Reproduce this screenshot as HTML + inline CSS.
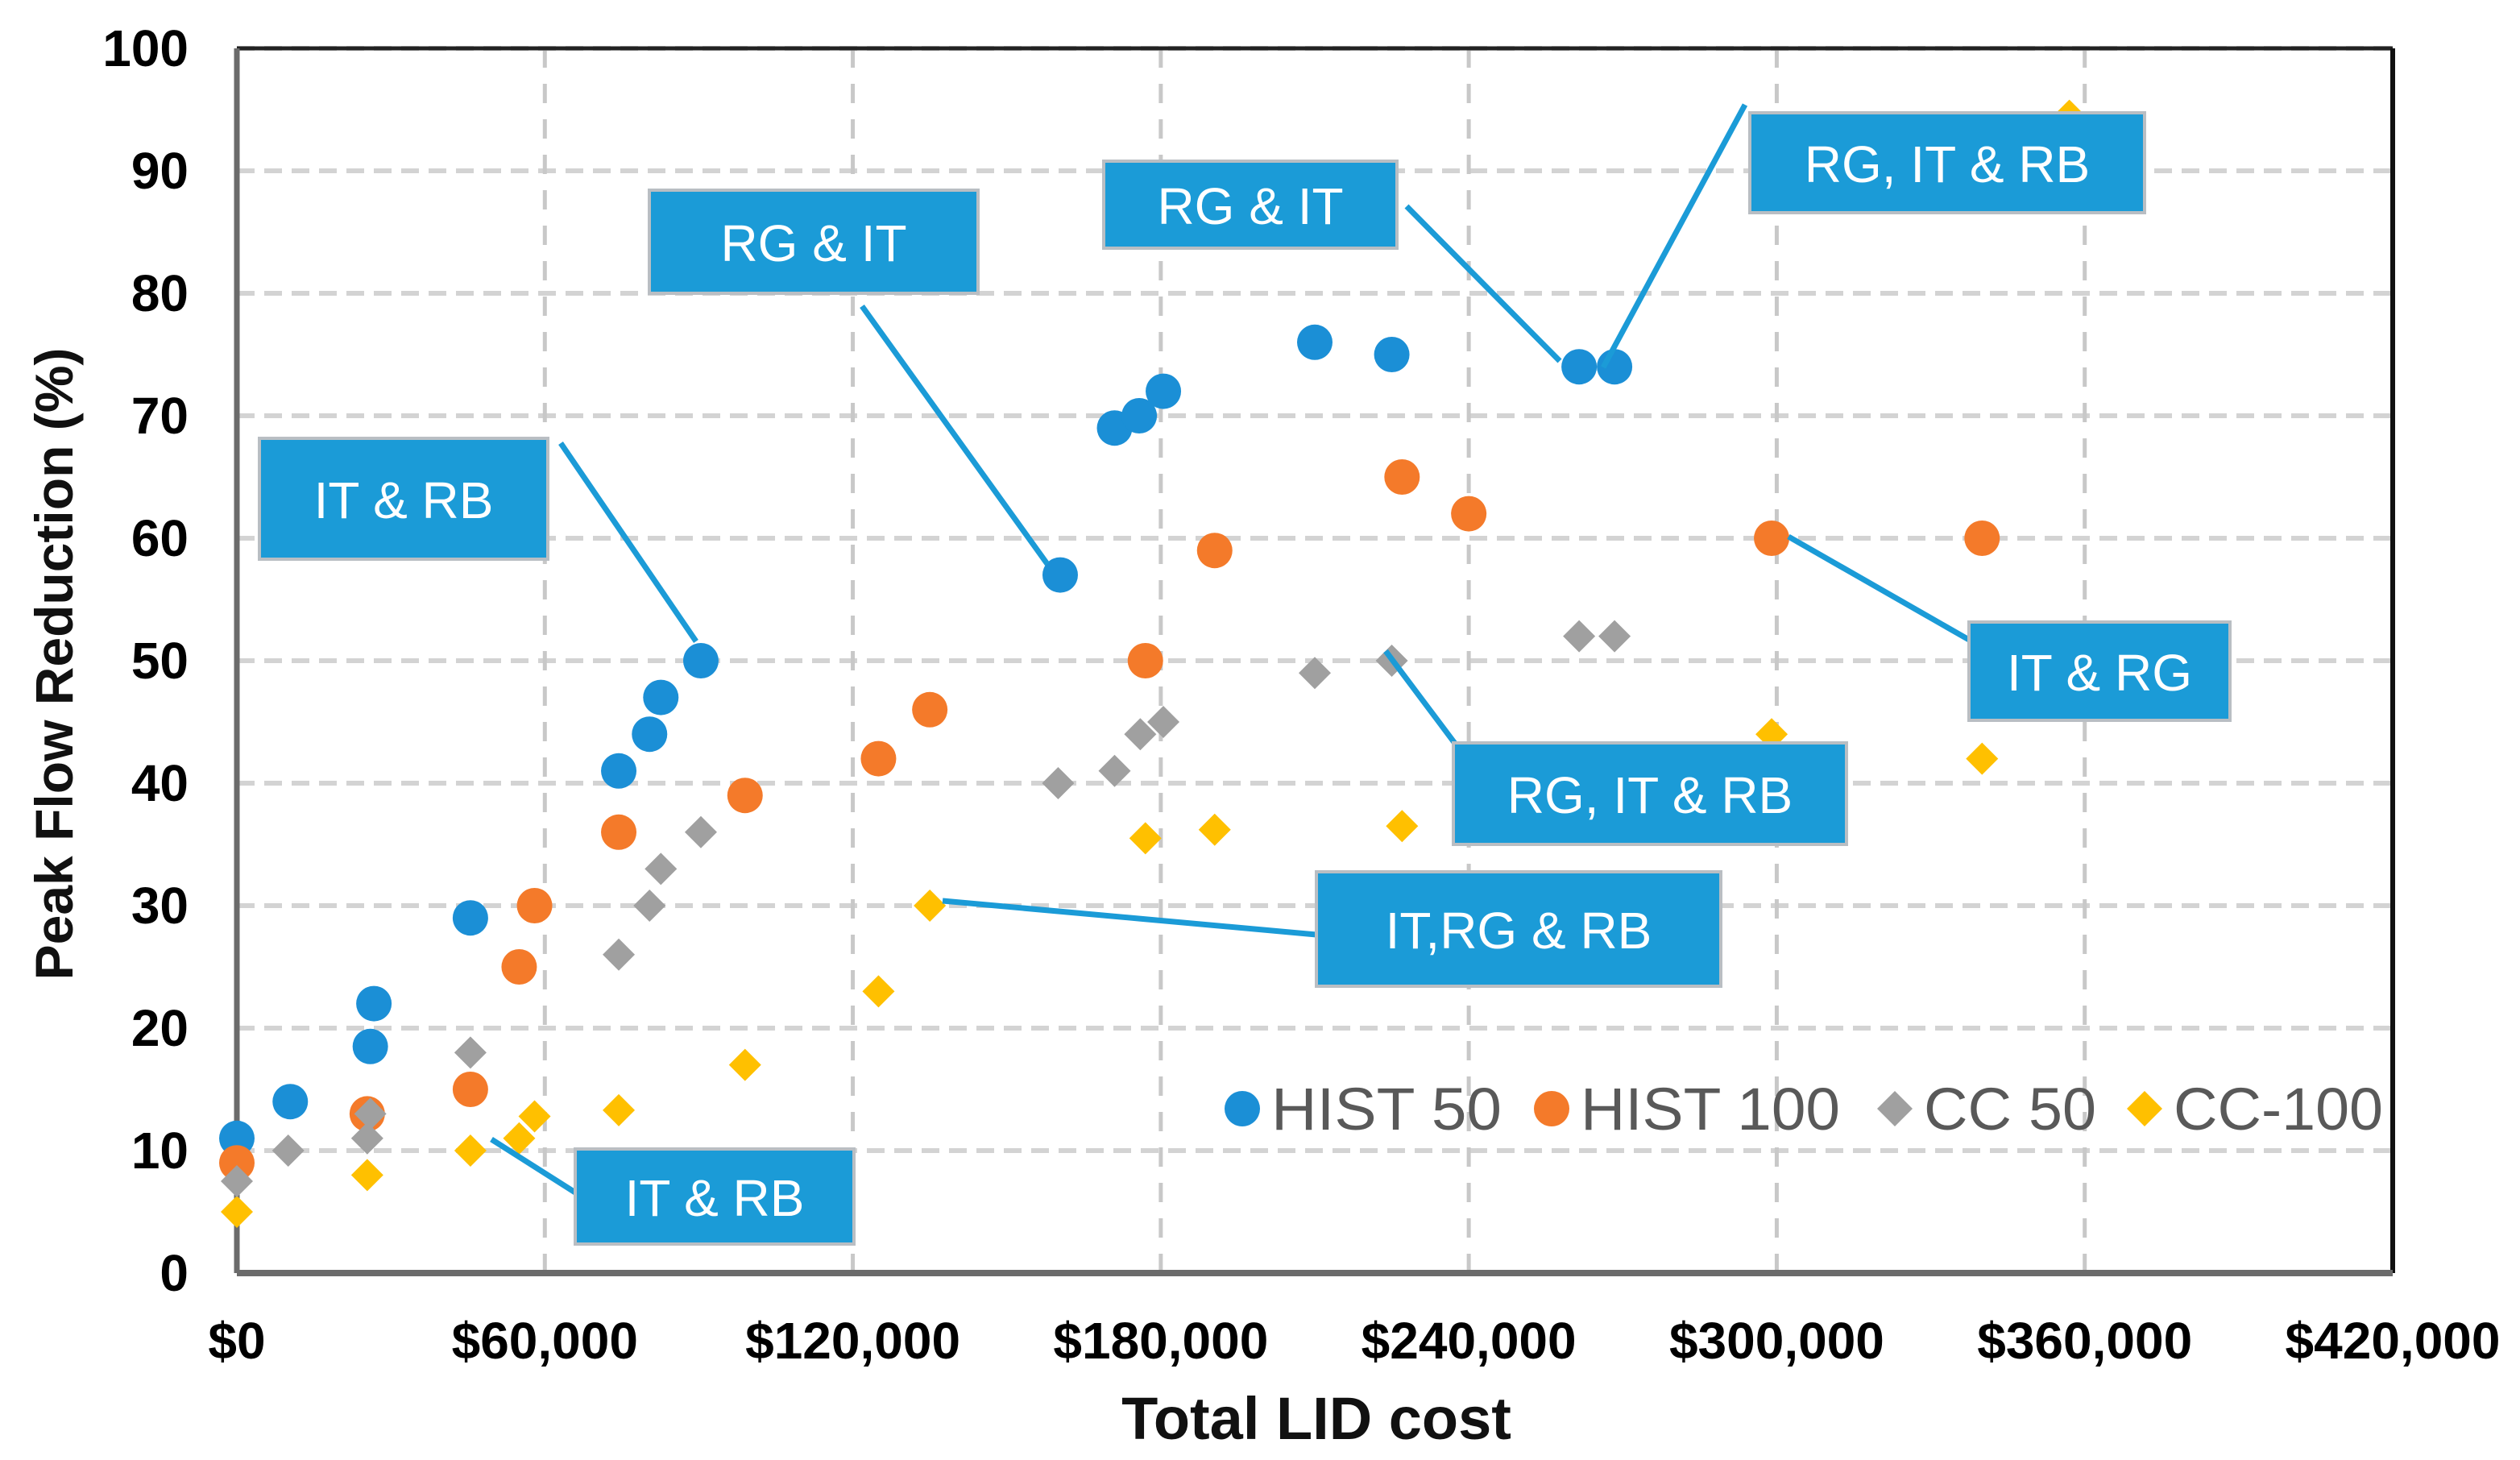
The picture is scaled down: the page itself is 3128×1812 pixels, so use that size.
<!DOCTYPE html>
<html><head><meta charset="utf-8"><style>
html,body{margin:0;padding:0;background:#fff}
svg{display:block}
text{font-family:"Liberation Sans",Arial,sans-serif}
</style></head><body>
<svg id="chart" width="3128" height="1812" viewBox="0 0 1564 906" xmlns="http://www.w3.org/2000/svg">
<g id="grid"></g>
<g id="axes"></g>
<g id="marks"></g>
<g id="annots"></g>
<g id="legend"></g>
</svg>
<script>
const xTicks = [0, 60000, 120000, 180000, 240000, 300000, 360000, 420000];
const xTickLabels = ["$0","$60,000","$120,000","$180,000","$240,000","$300,000","$360,000","$420,000"];
const yTicks = [0,10,20,30,40,50,60,70,80,90,100];
const hist50X = [0,10400,26000,26700,45500,74400,80400,82600,90400,160400,171000,175800,180500,210000,225000,261500,268400];
const hist50Y = [11,14,18.5,22,29,41,44,47,50,57,69,70,72,76,75,74,74];
const hist100X = [0,25400,45500,55000,58000,74400,99000,125000,135000,177000,190500,227000,240000,299000,340000];
const hist100Y = [9,13,15,25,30,36,39,42,46,50,59,65,62,60,60];
const cc50X = [0,10000,25400,26000,45500,74400,80400,82600,90400,160000,171000,176000,180500,210000,225000,261500,268400];
const cc50Y = [7.5,10,11,13,18,26,30,33,36,40,41,44,45,49,50,52,52];
const cc100X = [0,25400,45500,55000,58000,74400,99000,125000,135000,177000,190500,227000,299000,340000,357000];
const cc100Y = [5,8,10,11,12.8,13.3,17,23,30,35.5,36.2,36.5,44,42,94.5];

const NS="http://www.w3.org/2000/svg";
const L=147,R=1485,T=30,B=790;
const xs=v=>L+(v/420000)*(R-L);
const ys=v=>B-(v/100)*(B-T);
function mk(tag,attrs,parent,txt){const e=document.createElementNS(NS,tag);for(const k in attrs)e.setAttribute(k,attrs[k]);if(txt!==undefined)e.textContent=txt;parent.appendChild(e);return e;}
const grid=document.getElementById('grid'),axes=document.getElementById('axes'),marks=document.getElementById('marks'),ann=document.getElementById('annots'),leg=document.getElementById('legend');

yTicks.forEach((t,i)=>{
  if(t>0){const g=mk('line',{x1:L,x2:R,y1:ys(t),y2:ys(t),stroke:'#d3d3d3','stroke-width':3,'stroke-dasharray':'11 6'},grid);
  
  }
  const tl=mk('text',{x:117,y:ys(t)+11,'text-anchor':'end','font-size':32,'font-weight':'bold',fill:'#000'},axes,String(t));
  
  
});
xTicks.forEach((t,i)=>{
  if(t>0&&t<420000){const g=mk('line',{x1:xs(t),x2:xs(t),y1:T,y2:B,stroke:'#c8c8c8','stroke-width':2.5,'stroke-dasharray':'12 10'},grid);
  
  }
  const tl=mk('text',{x:xs(t),y:843,'text-anchor':'middle','font-size':32,'font-weight':'bold',fill:'#000'},axes,xTickLabels[i]);
  
  
});
let a=mk('line',{x1:L,x2:R,y1:T,y2:T,stroke:'#222','stroke-width':2.5},axes);


a=mk('line',{x1:R,x2:R,y1:T,y2:B,stroke:'#111','stroke-width':3},axes);


a=mk('line',{x1:L,x2:L,y1:T,y2:B,stroke:'#6b6b6b','stroke-width':3.5},axes);


a=mk('line',{x1:L,x2:R,y1:B,y2:B,stroke:'#6b6b6b','stroke-width':4},axes);


a=mk('text',{x:817,y:893,'text-anchor':'middle','font-size':37,'font-weight':'bold',fill:'#111'},axes,'Total LID cost');


a=mk('text',{x:0,y:0,transform:'translate(45,412) rotate(-90)','text-anchor':'middle','font-size':33,'font-weight':'bold',fill:'#111'},axes,'Peak Flow Reduction (%)');



function circles(X,Y,col,name){X.forEach((x,i)=>{const c=mk('circle',{cx:xs(x),cy:ys(Y[i]),r:11,fill:col},marks);
  
  });}
function diamonds(X,Y,col,name){X.forEach((x,i)=>{const cx=xs(x),cy=ys(Y[i]),d=10;
  const p=mk('polygon',{points:`${cx},${cy-d} ${cx+d},${cy} ${cx},${cy+d} ${cx-d},${cy}`,fill:col},marks);
  
  });}
diamonds(cc100X,cc100Y,'#ffc000','cc-100-point');
circles(hist50X,hist50Y,'#1b8fd6','hist-50-point');
circles(hist100X,hist100Y,'#f47a2a','hist-100-point');
diamonds(cc50X,cc50Y,'#a0a0a0','cc-50-point');

const labels=[
 {t:'IT & RB',x:161,y:272,w:179,h:75,l:[348,275,432,398]},
 {t:'RG & IT',x:403,y:118,w:204,h:64,l:[535,190,650,350]},
 {t:'RG & IT',x:685,y:100,w:182,h:54,l:[873,128,968,224]},
 {t:'RG, IT & RB',x:1086,y:70,w:245,h:62,l:[995,228,1083,65]},
 {t:'IT & RG',x:1222,y:386,w:162,h:61,l:[1110,333,1222,397]},
 {t:'RG, IT & RB',x:902,y:461,w:244,h:63,l:[860,404,905,464]},
 {t:'IT,RG & RB',x:817,y:541,w:251,h:71,l:[585,559,817,580]},
 {t:'IT & RB',x:357,y:713,w:173,h:59,l:[305,707,357,740]}
];
labels.forEach(o=>{
  const ln=mk('line',{x1:o.l[0],y1:o.l[1],x2:o.l[2],y2:o.l[3],stroke:'#1b9bd7','stroke-width':3.5},ann);
  
  
  const r=mk('rect',{x:o.x,y:o.y,width:o.w,height:o.h,fill:'#1b9bd7',stroke:'#b9bec3','stroke-width':2},ann);
  
  
  const tx=mk('text',{x:o.x+o.w/2,y:o.y+o.h/2+12,'text-anchor':'middle','font-size':32,fill:'#fff'},ann,o.t);
  
  
});

const legItems=[['circle','#1b8fd6',771,'HIST 50'],['circle','#f47a2a',963,'HIST 100'],['diamond','#a0a0a0',1176,'CC 50'],['diamond','#ffc000',1331,'CC-100']];
legItems.forEach(it=>{
  const g=mk('g',{},leg);
  
  
  const cy=688;
  if(it[0]==='circle')mk('circle',{cx:it[2],cy:cy,r:11,fill:it[1]},g);
  else{const d=11;mk('polygon',{points:`${it[2]},${cy-d} ${it[2]+d},${cy} ${it[2]},${cy+d} ${it[2]-d},${cy}`,fill:it[1]},g);}
  mk('text',{x:it[2]+18,y:cy+13,'font-size':37,fill:'#595959',textLength:(it[3]==='HIST 50'?143:it[3]==='HIST 100'?161:it[3]==='CC 50'?107:130),lengthAdjust:'spacingAndGlyphs'},g,it[3]);
});
</script>
</body></html>
